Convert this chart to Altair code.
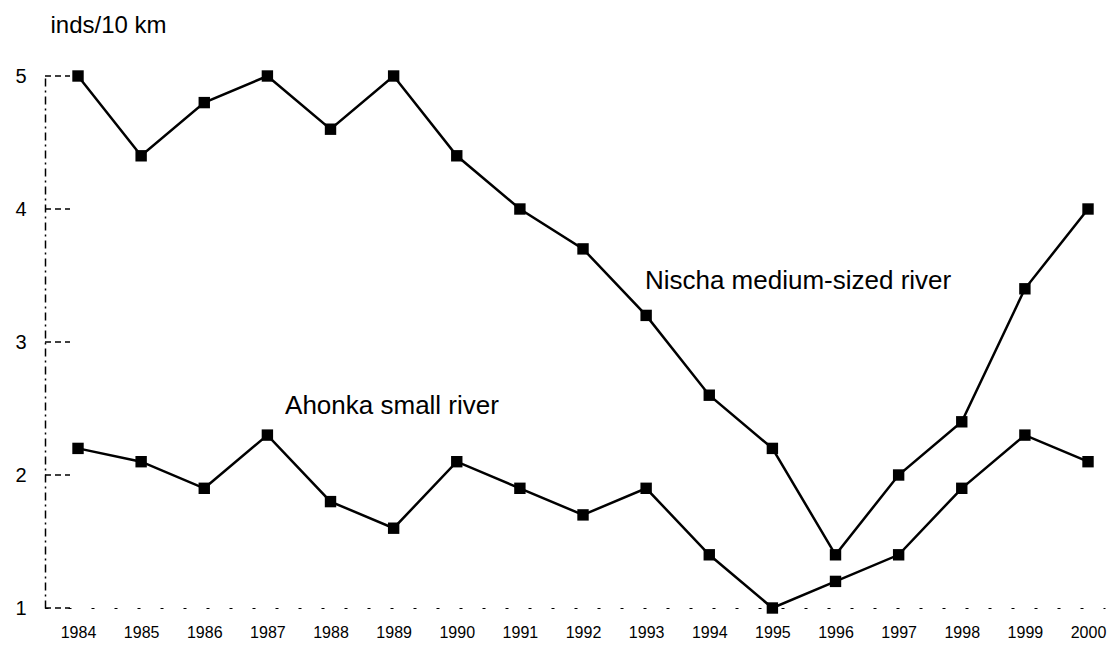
import altair as alt
import pandas as pd

years = list(range(1984, 2001))
nischa = [5.0, 4.4, 4.8, 5.0, 4.6, 5.0, 4.4, 4.0, 3.7, 3.2, 2.6, 2.2, 1.4, 2.0, 2.4, 3.4, 4.0]
ahonka = [2.2, 2.1, 1.9, 2.3, 1.8, 1.6, 2.1, 1.9, 1.7, 1.9, 1.4, 1.0, 1.2, 1.4, 1.9, 2.3, 2.1]
series_names = ["Nischa medium-sized river", "Ahonka small river"]
y_ticks = [1, 2, 3, 4, 5]
label_text = ["Nischa medium-sized river", "Ahonka small river"]
label_year = [1992.98, 1987.28]
label_value = [3.46, 2.52]

FONT = "Liberation Sans"

df = pd.DataFrame({
    "year": years * 2,
    "value": nischa + ahonka,
    "series": [series_names[0]] * len(years) + [series_names[1]] * len(years),
})
labels = pd.DataFrame({"text": label_text, "year": label_year, "value": label_value})
ticks = pd.DataFrame({"value": y_ticks})

xscale = alt.Scale(domain=[1983.477, 2000.269], nice=False, zero=False)
yscale = alt.Scale(domain=[1, 5], nice=False, zero=False)

x_enc = alt.X("year:Q", scale=xscale, axis=alt.Axis(
    values=years, format="d", title=None, grid=False, ticks=False,
    labelFontSize=16, labelPadding=16, labelFont=FONT, labelColor="#000",
    domainColor="#000", domainDash=[3, 20], domainWidth=1, labelFlush=False))
y_enc = alt.Y("value:Q", scale=yscale, axis=alt.Axis(
    values=y_ticks, format="d", title="inds/10 km", titleAngle=0,
    titleAlign="left", titleBaseline="middle", titleX=5, titleY=-51,
    titleFontSize=24, titleFontWeight="normal", titleFont=FONT, titleColor="#000",
    grid=False, ticks=False, labelFontSize=20, labelPadding=19, labelFont=FONT,
    labelColor="#000", domainColor="#000", domainDash=[8, 4, 2, 4], domainWidth=1.5))

base = alt.Chart(df)

lines = base.mark_line(color="#000", strokeWidth=2.5).encode(
    x=x_enc, y=y_enc, detail="series:N")
points = base.mark_square(color="#000", size=130, opacity=1).encode(
    x="year:Q", y="value:Q")

tick_marks = alt.Chart(ticks).mark_rule(color="#000", strokeWidth=1.5, strokeDash=[6, 4]).encode(
    y=alt.Y("value:Q", scale=yscale), x=alt.value(0), x2=alt.value(25))

text = alt.Chart(labels).mark_text(
    align="left", baseline="middle", fontSize=26, font=FONT, color="#000").encode(
    x="year:Q", y="value:Q", text="text:N")

chart = alt.layer(lines, tick_marks, points, text).properties(
    width=1060, height=532,
    autosize=alt.AutoSizeParams(type="none"),
    padding={"left": 37, "top": 68, "right": 7, "bottom": 40},
).configure(background="#ffffff", view=alt.ViewConfig(stroke=None))

chart.save("out.html", embed_options={"renderer": "svg", "actions": False})
